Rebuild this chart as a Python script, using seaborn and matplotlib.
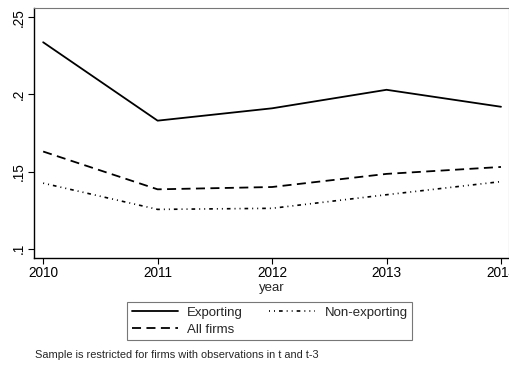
import matplotlib
matplotlib.use("Agg")
import matplotlib.pyplot as plt
import seaborn as sns
import pandas as pd

years = [2010, 2011, 2012, 2013, 2014]
exporting = [0.2338, 0.1830, 0.1910, 0.2030, 0.1920]
non_exporting = [0.1425, 0.1255, 0.1262, 0.1350, 0.1435]
all_firms = [0.1630, 0.1385, 0.1400, 0.1485, 0.1530]
ytick_vals = [0.10, 0.15, 0.20, 0.25]
ytick_labels = [".1", ".15", ".2", ".25"]

sns.set_theme(style="white")
plt.rcParams["font.family"] = ["Liberation Sans", "DejaVu Sans"]

df = pd.concat([
    pd.DataFrame({"year": years, "value": exporting, "group": "Exporting"}),
    pd.DataFrame({"year": years, "value": non_exporting, "group": "Non-exporting"}),
    pd.DataFrame({"year": years, "value": all_firms, "group": "All firms"}),
])

fig = plt.figure(figsize=(5.1, 3.67), dpi=100)
ax = fig.add_axes([34 / 510, 1 - 258 / 367, 475 / 510, 250 / 367])

styles = {
    "Exporting": ("-", 1.3),
    "Non-exporting": ((0, (0.6, 2.4, 0.6, 2.4, 2.2, 2.4)), 1.2),
    "All firms": ((0, (5, 3)), 1.3),
}
for name in ["Exporting", "Non-exporting", "All firms"]:
    sub = df[df["group"] == name]
    ls, lw = styles[name]
    sns.lineplot(data=sub, x="year", y="value", ax=ax, color="black",
                 linewidth=lw, linestyle=ls, label=name, legend=False)

ax.set_xlim(2009.92, 2014.07)
ax.set_ylim(0.094, 0.256)
ax.set_xticks(years)
ax.set_xticklabels([str(y) for y in years], fontsize=9.8)
ax.set_yticks(ytick_vals)
ax.set_yticklabels(ytick_labels, fontsize=9.8, rotation=90, va="center")
ax.tick_params(axis="both", direction="out", length=4, width=0.8, colors="black",
               bottom=True, left=True, pad=2)
ax.set_xlabel("year", fontsize=9.5, labelpad=1)
ax.set_ylabel("")
for side in ["left", "bottom"]:
    ax.spines[side].set_color("black")
    ax.spines[side].set_linewidth(1.0)
for side in ["top", "right"]:
    ax.spines[side].set_color("#777777")
    ax.spines[side].set_linewidth(0.8)

# two-column legend, filled column-wise: Exporting / All firms, then Non-exporting
handles, labels = ax.get_legend_handles_labels()
order = [labels.index(n) for n in ["Exporting", "All firms", "Non-exporting"]]
leg = fig.legend([handles[i] for i in order], [labels[i] for i in order],
                 loc="upper left", bbox_to_anchor=(127 / 510, 1 - 302 / 367),
                 ncol=2, fontsize=9.5, frameon=True, fancybox=False,
                 edgecolor="#555555", handlelength=3.5, handletextpad=0.7,
                 columnspacing=2.0, borderpad=0.35, borderaxespad=0,
                 labelspacing=0.35)
leg.get_frame().set_linewidth(0.8)

fig.text(35 / 510, 1 - 355 / 367, "Sample is restricted for firms with observations in t and t-3",
         fontsize=7.9, va="center", ha="left")

fig.savefig("out.png", dpi=100)
